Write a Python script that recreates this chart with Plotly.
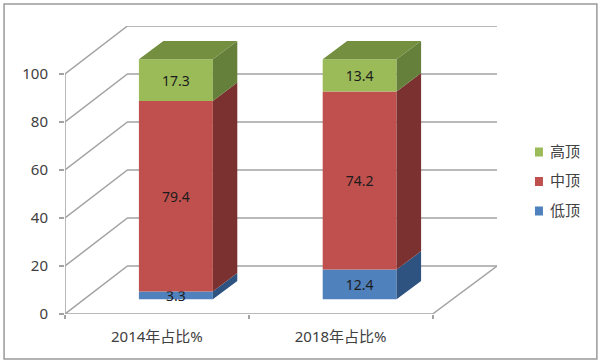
import plotly.graph_objects as go

categories = ["2014年占比%", "2018年占比%"]
low_values = [3.3, 12.4]
mid_values = [79.4, 74.2]
high_values = [17.3, 13.4]
y_ticks = [0, 20, 40, 60, 80, 100]

FONT = "Noto Sans, Noto Sans CJK SC, sans-serif"
GRID = "#a3a3a3"
XMAX = 432.5 / 184
YMAX = 120
WALL_DX, WALL_DY = 62.5 / 184, 20.0     # depth of the chart floor
BAR_W = 74 / 184
BAR_DX, BAR_DY = 19 / 184, 6.1          # bar offset from front of floor
SIDE_DX, SIDE_DY = 24.5 / 184, 7.7      # bar depth

centers = [i + 0.5 for i in range(len(categories))]
lefts = [c + BAR_DX - BAR_W / 2 for c in centers]
rights = [l + BAR_W for l in lefts]

series = [
    ("低顶", low_values, "#4F81BD", "#2F5380", None),
    ("中顶", mid_values, "#C0504D", "#7A312F", None),
    ("高顶", high_values, "#9BBB59", "#64803A", "#748F40"),
]


def px_x(p):
    return (p - 64.5) / 432.5


def px_y(p):
    return (314 - p) / 288


fig = go.Figure()
base = [BAR_DY] * len(categories)
for name, vals, front, side, top in series:
    tops = [b + v for b, v in zip(base, vals)]
    fig.add_trace(go.Bar(
        x=[c + BAR_DX for c in centers], y=vals, base=base, width=BAR_W, name=name,
        marker=dict(color=front, line=dict(width=0)),
        text=[f"{v:.1f}" for v in vals], textposition="inside", insidetextanchor="middle",
        constraintext="none", textangle=0, cliponaxis=False,
        textfont=dict(family=FONT, size=14, color="#1c1c1c"),
        hoverinfo="name+text",
    ))
    sx, sy = [], []
    for r, b, t in zip(rights, base, tops):
        sx += [r, r + SIDE_DX, r + SIDE_DX, r, r, None]
        sy += [b, b + SIDE_DY, t + SIDE_DY, t, b, None]
    fig.add_trace(go.Scatter(x=sx, y=sy, mode="lines", fill="toself", fillcolor=side,
                             line=dict(width=0, color=side), showlegend=False, hoverinfo="skip"))
    if top:
        sx, sy = [], []
        for l, r, t in zip(lefts, rights, tops):
            sx += [l, r, r + SIDE_DX, l + SIDE_DX, l, None]
            sy += [t, t, t + SIDE_DY, t + SIDE_DY, t, None]
        fig.add_trace(go.Scatter(x=sx, y=sy, mode="lines", fill="toself", fillcolor=top,
                                 line=dict(width=0, color=top), showlegend=False, hoverinfo="skip"))
    base = tops

shapes = []
grid_line = dict(color=GRID, width=1.5)
for v in y_ticks:
    path = f"M 0 {v} L {WALL_DX} {v + WALL_DY} L {XMAX} {v + WALL_DY}"
    shapes.append(dict(type="path", path=path, xref="x", yref="y", line=grid_line, layer="below"))
floor_right = len(categories)
shapes += [
    dict(type="line", xref="x", yref="y", x0=0, x1=0, y0=0, y1=max(y_ticks), line=grid_line, layer="below"),
    dict(type="line", xref="x", yref="y", x0=0, x1=floor_right, y0=0, y1=0, line=grid_line, layer="below"),
    dict(type="line", xref="x", yref="y", x0=floor_right, x1=XMAX, y0=0, y1=WALL_DY, line=grid_line, layer="below"),
    dict(type="rect", xref="paper", yref="paper", line=dict(color="#9a9a9a", width=1.5),
         x0=px_x(3.5), x1=px_x(597), y0=px_y(359), y1=px_y(4), layer="below"),
]

# Key placed by hand so swatch and text sit as close together as in the reference
annotations = []
for (name, _, front, _, _), key_y in zip(series, [211, 181.5, 152]):
    shapes.append(dict(type="rect", xref="paper", yref="paper", fillcolor=front, line=dict(width=0),
                       x0=px_x(535), x1=px_x(543), y0=px_y(key_y + 4.5), y1=px_y(key_y - 4.5)))
    annotations.append(dict(text=name, xref="paper", yref="paper", x=px_x(548), y=px_y(key_y - 1),
                            xanchor="left", yanchor="middle", showarrow=False,
                            font=dict(family=FONT, size=15, color="#404040")))

fig.update_layout(
    width=600, height=364, margin=dict(l=64.5, r=103, t=26, b=50, autoexpand=False),
    paper_bgcolor="white", plot_bgcolor="white", barmode="overlay", showlegend=False,
    shapes=shapes, annotations=annotations, font=dict(family=FONT, color="#404040", size=15),
    xaxis=dict(range=[0, XMAX], tickvals=centers, ticktext=categories, ticks="", showgrid=False,
               zeroline=False, showline=False, ticklabelstandoff=12,
               minor=dict(tickvals=list(range(len(categories) + 1)), ticks="outside", ticklen=4,
                          tickcolor=GRID, tickwidth=1.5, showgrid=False)),
    yaxis=dict(range=[0, YMAX], tickvals=y_ticks, ticks="outside", ticklen=5, tickcolor=GRID, tickwidth=1.5,
               showgrid=False, zeroline=False, showline=False, ticklabelstandoff=8),
)

fig.write_html("out.html", config={"displayModeBar": False},
               post_script="document.body.style.margin='0';document.body.style.overflow='hidden';")
